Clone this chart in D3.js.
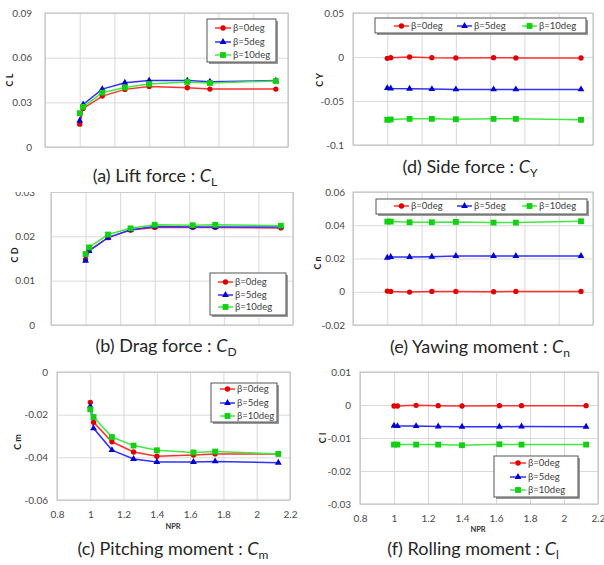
<!DOCTYPE html>
<html><head><meta charset="utf-8">
<script src="https://cdn.jsdelivr.net/npm/d3@7"></script>
<style>
body{margin:0;background:#fff;}
svg{display:block;font-family:Lato,"Noto Sans",sans-serif;}
</style></head>
<body><svg id="chart" width="604" height="565"></svg>
<script>
// ---- data ----
const npr = [1.0, 1.02, 1.13, 1.26, 1.40, 1.62, 1.75, 2.13];
const seriesNames = ["β=0deg", "β=5deg", "β=10deg"];
const xTicks = [0.8, 1, 1.2, 1.4, 1.6, 1.8, 2, 2.2];

const liftB0  = [0.0153, 0.0259, 0.0342, 0.0387, 0.0407, 0.0398, 0.0389, 0.0389];
const liftB5  = [0.0176, 0.0286, 0.0389, 0.0432, 0.0446, 0.0446, 0.0439, 0.0446];
const liftB10 = [0.0227, 0.0270, 0.0365, 0.0400, 0.0423, 0.0437, 0.0430, 0.0443];
const liftTicks = [0, 0.03, 0.06, 0.09];

const dragB0  = [0.0148, 0.0168, 0.0197, 0.0214, 0.0220, 0.0220, 0.0220, 0.0219];
const dragB5  = [0.0145, 0.0167, 0.0197, 0.0215, 0.0222, 0.0221, 0.0221, 0.0221];
const dragB10 = [0.0160, 0.0175, 0.0204, 0.0218, 0.0226, 0.0225, 0.0226, 0.0224];
const dragTicks = [0, 0.01, 0.02, 0.03];

const pitchB0  = [-0.0142, -0.0236, -0.0327, -0.0375, -0.0395, -0.0389, -0.0384, -0.0384];
const pitchB5  = [-0.0161, -0.0264, -0.0366, -0.0408, -0.0422, -0.0422, -0.0419, -0.0425];
const pitchB10 = [-0.0175, -0.0211, -0.0305, -0.0345, -0.0367, -0.0377, -0.0373, -0.0384];
const pitchTicks = [-0.06, -0.04, -0.02, 0];

const sideB0  = [-0.0015, -0.0008, 0.0000, -0.0008, -0.0010, -0.0008, -0.0010, -0.0010];
const sideB5  = [-0.0353, -0.0357, -0.0360, -0.0365, -0.0368, -0.0368, -0.0368, -0.0368];
const sideB10 = [-0.0714, -0.0710, -0.0703, -0.0703, -0.0707, -0.0703, -0.0703, -0.0714];
const sideTicks = [-0.1, -0.05, 0, 0.05];

const yawB0  = [0.0004, 0.0002, -0.0002, 0.0002, 0.0002, 0.0000, 0.0002, 0.0002];
const yawB5  = [0.0205, 0.0209, 0.0209, 0.0211, 0.0215, 0.0215, 0.0215, 0.0215];
const yawB10 = [0.0422, 0.0422, 0.0418, 0.0418, 0.0420, 0.0416, 0.0416, 0.0424];
const yawTicks = [-0.02, 0, 0.02, 0.04, 0.06];

const rollB0  = [-0.0003, -0.0003, -0.0001, -0.0002, -0.0003, -0.0002, -0.0002, -0.0002];
const rollB5  = [-0.0063, -0.0064, -0.0064, -0.0065, -0.0066, -0.0066, -0.0065, -0.0066];
const rollB10 = [-0.0120, -0.0120, -0.0120, -0.0120, -0.0122, -0.0119, -0.0120, -0.0120];
const rollTicks = [-0.03, -0.02, -0.01, 0, 0.01];

// ---- styles ----
const lineColors = ["#ff3030", "#3030ff", "#40e840"];
const markColors = ["#e00000", "#0000d0", "#10d010"];
const markTypes = [d3.symbolCircle, d3.symbolTriangle, d3.symbolSquare];
const markSizes = [22, 20, 34];

const svg = d3.select("#chart");

function panel(cfg) {
  const g = svg.append("g");
  if (cfg.clipTop !== undefined) {
    const id = "clip" + cfg.id;
    svg.append("defs").append("clipPath").attr("id", id)
      .append("rect").attr("x", cfg.L - 60).attr("y", cfg.clipTop).attr("width", 320).attr("height", 200);
    g.attr("clip-path", `url(#${id})`);
  }
  const x = d3.scaleLinear().domain([0.8, 2.2]).range([cfg.L, cfg.R]);
  const y = d3.scaleLinear().domain(d3.extent(cfg.yTicks)).range([cfg.B, cfg.T]);

  const ya = g.append("g").attr("transform", `translate(${cfg.L},0)`)
    .call(d3.axisLeft(y).tickValues(cfg.yTicks).tickSize(-(cfg.R - cfg.L)).tickPadding(cfg.yPad).tickFormat(d => String(d)));
  ya.select(".domain").remove();
  ya.selectAll("line").attr("stroke", "#d9d9d9");
  ya.selectAll("text").attr("fill", "#4a4a4a").style("font-size", "10px").style("font-family", "Lato");

  const xa = g.append("g").attr("transform", `translate(0,${cfg.B})`)
    .call(d3.axisBottom(x).tickValues(xTicks).tickSize(-(cfg.B - cfg.T)).tickPadding(cfg.xPad || 12)
      .tickFormat(cfg.xLabels ? (d => String(d)) : (() => "")));
  xa.select(".domain").remove();
  xa.selectAll("line").attr("stroke", "#d9d9d9");
  xa.selectAll("text").attr("fill", "#4a4a4a").style("font-size", "10px").style("font-family", "Lato");

  g.append("rect").attr("x", cfg.L).attr("y", cfg.T).attr("width", cfg.R - cfg.L).attr("height", cfg.B - cfg.T)
    .attr("fill", "none").attr("stroke", "#bdbdbd");

  g.append("text").attr("transform", `translate(${cfg.yTitleX},${cfg.yTitleY}) rotate(-90)`)
    .attr("text-anchor", "middle").attr("font-size", 9).attr("font-weight", "bold").attr("fill", "#222")
    .text(cfg.yTitle);
  if (cfg.xLabels) {
    g.append("text").attr("x", cfg.nprX).attr("y", cfg.nprY).attr("text-anchor", "middle")
      .attr("font-size", 7.5).attr("font-weight", "bold").attr("fill", "#333").text("NPR");
  }

  const line = d3.line().x((d, i) => x(npr[i])).y(d => y(d));
  cfg.series.forEach((vals, k) => {
    g.append("path").datum(vals).attr("d", line).attr("fill", "none")
      .attr("stroke", lineColors[k]).attr("stroke-width", 1.5);
  });
  cfg.series.forEach((vals, k) => {
    g.selectAll(null).data(vals).enter().append("path")
      .attr("transform", (d, i) => `translate(${x(npr[i])},${y(d)})`)
      .attr("d", d3.symbol().type(markTypes[k]).size(markSizes[k]))
      .attr("fill", markColors[k]);
  });

  const lg = cfg.legend;
  g.append("rect").attr("x", lg.x + 2).attr("y", lg.y + 2).attr("width", lg.w).attr("height", lg.h).attr("fill", "#9a9a9a");
  g.append("rect").attr("x", lg.x).attr("y", lg.y).attr("width", lg.w).attr("height", lg.h)
    .attr("fill", "#fff").attr("stroke", "#555").attr("stroke-width", 1);
  seriesNames.forEach((name, k) => {
    const ex = lg.entries[k];
    g.append("line").attr("x1", ex[0]).attr("x2", ex[0] + lg.len).attr("y1", ex[1]).attr("y2", ex[1])
      .attr("stroke", lineColors[k]).attr("stroke-width", 1.5);
    g.append("path").attr("transform", `translate(${ex[0] + lg.len / 2},${ex[1]})`)
      .attr("d", d3.symbol().type(markTypes[k]).size(markSizes[k])).attr("fill", markColors[k]);
    g.append("text").attr("x", ex[0] + lg.len + 2).attr("y", ex[1]).attr("dy", "0.35em")
      .attr("font-size", 9.5).attr("fill", "#404040").text(name);
  });

  const cap = svg.append("text").attr("x", cfg.capX).attr("y", cfg.capY).attr("text-anchor", "middle")
    .attr("font-size", 18).attr("fill", "#262626");
  cap.append("tspan").text(cfg.capText + " : ");
  cap.append("tspan").attr("font-style", "italic").text("C");
  cap.append("tspan").attr("font-size", 12).attr("dy", 4).text(cfg.capSub);
}

panel({ id: "a", L: 45, R: 288, T: 13, B: 147, yTicks: liftTicks, yPad: 13, series: [liftB0, liftB5, liftB10],
  yTitle: "C L", yTitleX: 13, yTitleY: 80,
  legend: { x: 207, y: 19, w: 69, h: 43, len: 16, entries: [[215, 28], [215, 42], [215, 55]] },
  capX: 155, capY: 182, capText: "(a) Lift force", capSub: "L" });

panel({ id: "d", L: 353, R: 593, T: 13, B: 145, yTicks: sideTicks, yPad: 9, series: [sideB0, sideB5, sideB10],
  yTitle: "C Y", yTitleX: 323, yTitleY: 80,
  legend: { x: 375, y: 18, w: 211, h: 15, len: 15, entries: [[394, 26], [457, 26], [522, 26]] },
  capX: 470, capY: 173, capText: "(d) Side force", capSub: "Y" });

panel({ id: "b", L: 51, R: 293, T: 192, B: 325, yTicks: dragTicks, yPad: 16, series: [dragB0, dragB5, dragB10],
  yTitle: "C D", yTitleX: 18, yTitleY: 255, clipTop: 192,
  legend: { x: 210, y: 273, w: 76, h: 42, len: 15, entries: [[218, 282], [218, 295], [218, 307]] },
  capX: 166, capY: 352, capText: "(b) Drag force", capSub: "D" });

panel({ id: "e", L: 353, R: 593, T: 192, B: 325, yTicks: yawTicks, yPad: 8, series: [yawB0, yawB5, yawB10],
  yTitle: "C n", yTitleX: 321, yTitleY: 263,
  legend: { x: 376, y: 199, w: 211, h: 15, len: 15, entries: [[394, 206], [457, 206], [522, 206]] },
  capX: 480, capY: 353, capText: "(e) Yawing moment", capSub: "n" });

panel({ id: "c", L: 57, R: 290, T: 372, B: 500, yTicks: pitchTicks, yPad: 9, series: [pitchB0, pitchB5, pitchB10],
  yTitle: "C m", yTitleX: 21, yTitleY: 442, xLabels: true, xPad: 11, nprX: 173, nprY: 529,
  legend: { x: 211, y: 383, w: 66, h: 39, len: 15, entries: [[220, 389], [220, 403], [220, 416]] },
  capX: 173, capY: 555, capText: "(c) Pitching moment", capSub: "m" });

panel({ id: "f", L: 360, R: 598, T: 372, B: 504, yTicks: rollTicks, yPad: 9, series: [rollB0, rollB5, rollB10],
  yTitle: "C l", yTitleX: 326, yTitleY: 438, xLabels: true, xPad: 11, nprX: 478, nprY: 532,
  legend: { x: 494, y: 456, w: 84, h: 41, len: 16, entries: [[510, 463], [510, 477], [510, 490]] },
  capX: 473, capY: 555, capText: "(f) Rolling moment", capSub: "l" });
</script></body></html>
